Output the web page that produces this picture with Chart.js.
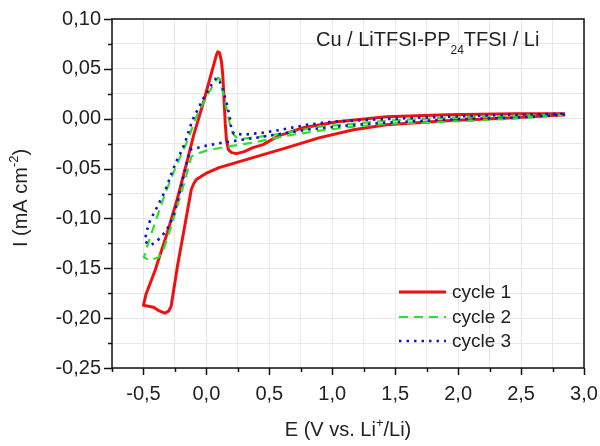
<!DOCTYPE html>
<html><head><meta charset="utf-8">
<script src="https://cdn.jsdelivr.net/npm/chart.js@4"></script>
<style>html,body{margin:0;padding:0;background:#fff}canvas{display:block}</style>
</head><body>
<canvas id="c" width="600" height="446"></canvas>
<script>
// ---- data (E in V vs Li+/Li, I in mA cm-2) ----
const cycle1V = [2.85, 2.44, 1.91, 1.43, 1.17, 0.90, 0.64, 0.37, 0.10, 0.01, -0.03, -0.08, -0.10, -0.12, -0.17, -0.23, -0.28, -0.30, -0.33, -0.37, -0.42, -0.46, -0.50, -0.48, -0.41, -0.31, -0.23, -0.15, -0.10, -0.02, 0.025, 0.06, 0.08, 0.09, 0.105, 0.12, 0.13, 0.14, 0.15, 0.16, 0.175, 0.20, 0.24, 0.30, 0.37, 0.45, 0.52, 0.58, 0.77, 1.04, 1.43, 1.91, 2.44, 2.85];
const cycle1I = [0.004, 0.001, -0.002, -0.006, -0.011, -0.019, -0.029, -0.039, -0.049, -0.054, -0.057, -0.061, -0.065, -0.071, -0.106, -0.148, -0.188, -0.193, -0.195, -0.193, -0.189, -0.188, -0.187, -0.176, -0.153, -0.114, -0.080, -0.041, -0.016, 0.018, 0.039, 0.055, 0.064, 0.067, 0.066, 0.057, 0.044, 0.020, -0.005, -0.022, -0.031, -0.034, -0.035, -0.033, -0.029, -0.026, -0.021, -0.017, -0.009, -0.003, 0.002, 0.004, 0.005, 0.005];

const cycle2V = [2.85, 2.44, 1.91, 1.43, 1.17, 0.90, 0.64, 0.37, 0.16, 0.0, -0.07, -0.12, -0.17, -0.22, -0.28, -0.34, -0.38, -0.45, -0.497, -0.47, -0.41, -0.33, -0.265, -0.20, -0.15, -0.08, 0.0, 0.05, 0.09, 0.105, 0.14, 0.17, 0.19, 0.21, 0.25, 0.30, 0.43, 0.64, 0.77, 0.90, 1.17, 1.43, 1.91, 2.44, 2.85];
const cycle2I = [0.004, 0.000, -0.003, -0.005, -0.008, -0.012, -0.017, -0.024, -0.028, -0.032, -0.035, -0.038, -0.062, -0.083, -0.108, -0.131, -0.139, -0.142, -0.139, -0.128, -0.105, -0.076, -0.055, -0.036, -0.022, 0.002, 0.022, 0.033, 0.041, 0.040, 0.022, 0.005, -0.008, -0.015, -0.020, -0.020, -0.018, -0.014, -0.011, -0.008, -0.005, -0.002, 0.001, 0.003, 0.004];

const cycle3V = [2.85, 2.44, 1.91, 1.43, 1.10, 0.80, 0.60, 0.40, 0.13, 0.0, -0.13, -0.18, -0.24, -0.27, -0.305, -0.36, -0.44, -0.49, -0.475, -0.45, -0.41, -0.37, -0.33, -0.28, -0.24, -0.20, -0.17, -0.11, -0.03, 0.04, 0.08, 0.10, 0.13, 0.16, 0.185, 0.20, 0.22, 0.30, 0.45, 0.60, 0.80, 1.00, 1.30, 1.90, 2.44, 2.85];
const cycle3I = [0.004, 0.001, -0.001, -0.004, -0.007, -0.011, -0.015, -0.019, -0.024, -0.027, -0.031, -0.057, -0.088, -0.100, -0.109, -0.119, -0.127, -0.123, -0.113, -0.103, -0.093, -0.083, -0.073, -0.056, -0.043, -0.033, -0.024, -0.001, 0.019, 0.034, 0.041, 0.039, 0.030, 0.016, 0.002, -0.012, -0.015, -0.016, -0.014, -0.011, -0.006, -0.003, -0.001, 0.002, 0.004, 0.005];

const seriesNames = ['cycle 1', 'cycle 2', 'cycle 3'];
const xTickValues = [-0.75, -0.5, -0.25, 0, 0.25, 0.5, 0.75, 1.0, 1.25, 1.5, 1.75, 2.0, 2.25, 2.5, 2.75, 3.0];
const xMajor = [-0.5, 0, 0.5, 1.0, 1.5, 2.0, 2.5, 3.0];
const yTickValues = [-0.25, -0.225, -0.2, -0.175, -0.15, -0.125, -0.1, -0.075, -0.05, -0.025, 0, 0.025, 0.05, 0.075, 0.1];
const yMajor = [-0.25, -0.2, -0.15, -0.1, -0.05, 0, 0.05, 0.1];

// ---- styling ----
const FONT = '"Liberation Sans", Arial, Helvetica, sans-serif';
const TXT = '#222';
const colors = ['#f01010', '#2ee02e', '#1414c8'];
const dashes = [[], [9, 6], [2.5, 5]];
const widths = [3, 2.2, 2.6];

const isIn = (v, arr) => arr.some(a => Math.abs(a - v) < 1e-9);
const fmt = (v, d) => { let s = Math.abs(v) < 1e-9 ? (0).toFixed(d) : v.toFixed(d); return s.replace('.', ','); };
const pts = (xs, ys) => xs.map((v, i) => ({ x: v, y: ys[i] }));

const deco = {
  id: 'deco',
  beforeDraw(chart) {
    const c = chart.ctx; c.save(); c.fillStyle = '#fff'; c.fillRect(0, 0, chart.width, chart.height); c.restore();
  },
  afterDraw(chart) {
    const ctx = chart.ctx, a = chart.chartArea, x = chart.scales.x, y = chart.scales.y;
    ctx.save();
    ctx.strokeStyle = '#111'; ctx.lineWidth = 1.5; ctx.setLineDash([]);
    ctx.strokeRect(a.left, a.top, a.right - a.left, a.bottom - a.top);
    xTickValues.forEach(v => {
      const px = Math.round(x.getPixelForValue(v)) + 0.5;
      const L = isIn(v, xMajor) ? 7 : 4;
      ctx.beginPath(); ctx.moveTo(px, a.bottom); ctx.lineTo(px, a.bottom + L); ctx.stroke();
    });
    yTickValues.forEach(v => {
      const py = Math.round(y.getPixelForValue(v)) + 0.5;
      const L = isIn(v, yMajor) ? 8 : 4;
      ctx.beginPath(); ctx.moveTo(a.left, py); ctx.lineTo(a.left - L, py); ctx.stroke();
    });

    ctx.fillStyle = TXT;
    ctx.textBaseline = 'alphabetic';
    // annotation with subscript
    let tx = 316, ty = 46;
    ctx.font = '20px ' + FONT; ctx.textAlign = 'left';
    const t1 = 'Cu / LiTFSI-PP', t2 = '24', t3 = 'TFSI / Li';
    ctx.fillText(t1, tx, ty); tx += ctx.measureText(t1).width;
    ctx.font = '12px ' + FONT; ctx.fillText(t2, tx, ty + 8); tx += ctx.measureText(t2).width;
    ctx.font = '20px ' + FONT; ctx.fillText(t3, tx, ty);

    // x title with superscript
    const xa = 'E (V vs. Li', xb = '+', xc = '/Li)';
    ctx.font = '20px ' + FONT; const wa = ctx.measureText(xa).width, wc = ctx.measureText(xc).width;
    ctx.font = '13px ' + FONT; const wb = ctx.measureText(xb).width;
    let sx = 348 - (wa + wb + wc) / 2, sy = 436;
    ctx.font = '20px ' + FONT; ctx.fillText(xa, sx, sy); sx += wa;
    ctx.font = '13px ' + FONT; ctx.fillText(xb, sx, sy - 9); sx += wb;
    ctx.font = '20px ' + FONT; ctx.fillText(xc, sx, sy);

    // y title rotated with superscript
    ctx.save();
    ctx.translate(27, 198); ctx.rotate(-Math.PI / 2);
    const ya = 'I (mA cm', yb = '-2', yc = ')';
    ctx.font = '20px ' + FONT; const ua = ctx.measureText(ya).width, uc = ctx.measureText(yc).width;
    ctx.font = '13px ' + FONT; const ub = ctx.measureText(yb).width;
    let rx = -(ua + ub + uc) / 2;
    ctx.font = '20px ' + FONT; ctx.fillText(ya, rx, 0); rx += ua;
    ctx.font = '13px ' + FONT; ctx.fillText(yb, rx, -9); rx += ub;
    ctx.font = '20px ' + FONT; ctx.fillText(yc, rx, 0);
    ctx.restore();

    // legend
    const rows = [292, 317, 341];
    seriesNames.forEach((n, i) => {
      ctx.save();
      ctx.strokeStyle = colors[i]; ctx.lineWidth = widths[i]; ctx.setLineDash(dashes[i]);
      ctx.beginPath(); ctx.moveTo(399, rows[i]); ctx.lineTo(446, rows[i]); ctx.stroke();
      ctx.restore();
      ctx.font = '19px ' + FONT; ctx.textBaseline = 'middle'; ctx.fillStyle = TXT;
      ctx.fillText(n, 452, rows[i] + 1);
    });
    ctx.restore();
  }
};

const datasets = [
  { label: seriesNames[0], data: pts(cycle1V, cycle1I), order: 3 },
  { label: seriesNames[1], data: pts(cycle2V, cycle2I), order: 2 },
  { label: seriesNames[2], data: pts(cycle3V, cycle3I), order: 1 }
].map((d, i) => Object.assign(d, {
  showLine: true, borderColor: colors[i], backgroundColor: colors[i], borderWidth: widths[i],
  borderDash: dashes[i], pointRadius: 0, tension: 0, fill: false, borderJoinStyle: 'round'
}));

new Chart(document.getElementById('c'), {
  type: 'scatter',
  data: { datasets },
  options: {
    responsive: false, animation: false, devicePixelRatio: 1,
    layout: { padding: { left: 0, top: 19, right: 16, bottom: 0 } },
    plugins: { legend: { display: false }, tooltip: { enabled: false } },
    scales: {
      x: {
        type: 'linear', min: -0.75, max: 3.0,
        afterFit(s) { s.height = 78; s.paddingLeft = 0; s.paddingRight = 0; },
        afterBuildTicks(s) { s.ticks = xTickValues.map(v => ({ value: v })); },
        ticks: { autoSkip: false, maxRotation: 0, padding: 14, color: TXT, font: { family: FONT, size: 20 },
          callback: v => isIn(v, xMajor) ? fmt(v, 1) : '' },
        grid: { color: '#e8e8e8', lineWidth: 1, drawTicks: false },
        border: { display: false }
      },
      y: {
        type: 'linear', min: -0.25, max: 0.10,
        afterFit(s) { s.width = 112; s.paddingTop = 0; s.paddingBottom = 0; },
        afterBuildTicks(s) { s.ticks = yTickValues.map(v => ({ value: v })); },
        ticks: { autoSkip: false, padding: 11, color: TXT, font: { family: FONT, size: 20 },
          callback: v => isIn(v, yMajor) ? fmt(v, 2) : '' },
        grid: { color: '#e8e8e8', lineWidth: 1, drawTicks: false },
        border: { display: false }
      }
    }
  },
  plugins: [deco]
});
</script>
</body></html>
